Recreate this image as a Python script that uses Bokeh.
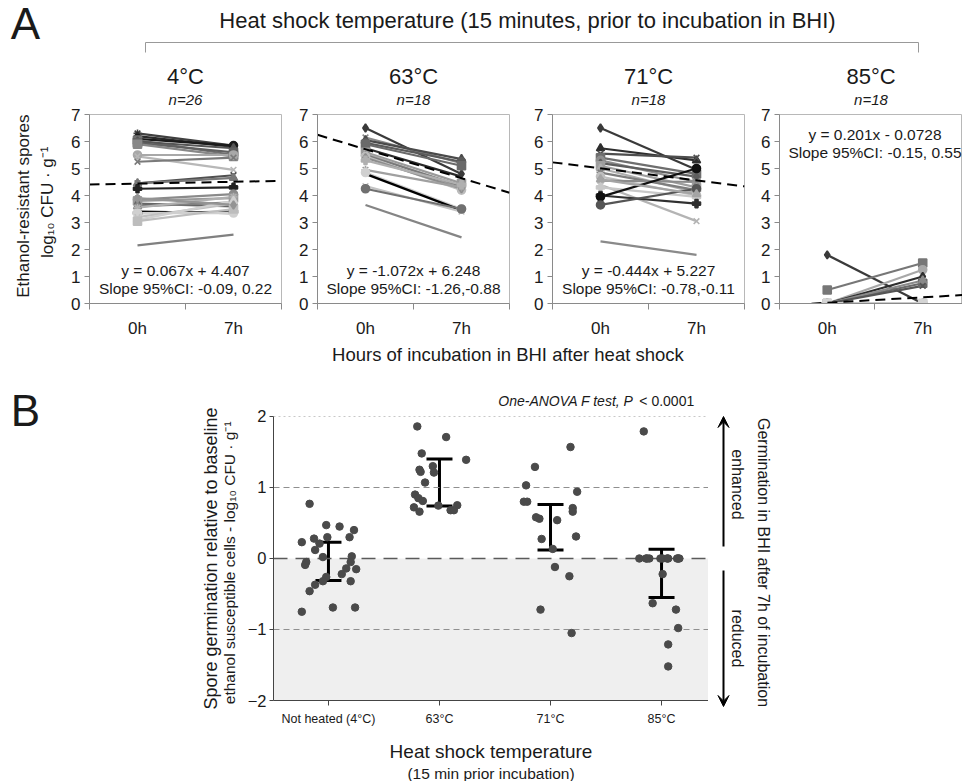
import math
from bokeh.plotting import figure
from bokeh.layouts import column, row
from bokeh.models import (Range1d, FixedTicker, Label, BoxAnnotation, Whisker, Title,
                          TeeHead, Arrow, VeeHead, ColumnDataSource)
from bokeh.embed import file_html
from bokeh.resources import INLINE
from bokeh.core.properties import value

FONT = "Liberation Sans"
TXT = "#1a1a1a"

# ---------------- Panel A data ----------------
main_title = "Heat shock temperature (15 minutes, prior to incubation in BHI)"
temps_A = ["4°C", "63°C", "71°C", "85°C"]
n_A = ["n=26", "n=18", "n=18", "n=18"]
hours = ["0h", "7h"]
yticks_A = [0, 1, 2, 3, 4, 5, 6, 7]
hours_title = "Hours of incubation in BHI after  heat shock"
ylab_A1 = "Ethanol-resistant spores"
ylab_A2 = "log₁₀ CFU · g⁻¹"

t4_0h = [6.3, 6.2, 6.1, 6.05, 6.0, 5.95, 5.9, 5.5, 5.45, 5.25, 4.45, 4.45, 4.25,
         3.85, 3.8, 3.7, 3.6, 3.55, 3.4, 3.35, 3.35, 3.2, 3.1, 3.05, 3.9, 2.15]
t4_7h = [5.85, 5.8, 5.85, 5.5, 5.75, 5.6, 5.45, 5.5, 4.95, 5.4, 4.75, 4.65, 4.3,
         4.05, 3.9, 3.6, 3.75, 3.95, 3.35, 3.4, 3.35, 3.7, 3.8, 3.5, 3.65, 2.55]
t63_0h = [6.5, 6.15, 6.05, 5.95, 5.9, 5.75, 5.6, 5.55, 5.5, 5.45, 5.4, 4.95, 4.85, 4.8, 4.35, 4.25, 5.3, 3.65]
t63_7h = [4.8, 5.2, 5.35, 5.25, 5.1, 4.7, 4.45, 4.3, 4.35, 4.2, 4.25, 4.3, 3.5, 3.45, 3.4, 3.5, 4.4, 2.45]
t71_0h = [6.5, 5.75, 5.55, 5.4, 5.3, 5.2, 5.1, 5.0, 4.85, 4.7, 4.55, 4.4, 4.3, 4.0, 3.95, 3.65, 4.6, 2.3]
t71_7h = [4.95, 5.3, 5.4, 4.8, 4.5, 4.7, 4.3, 4.1, 4.2, 4.0, 4.5, 3.05, 3.95, 3.7, 5.0, 4.25, 4.05, 1.8]
t85_0h = [1.8, 0.5, 0.0, 0.0, 0.0, 0.0, 0.0, 0.0, 0.0, 0.0, 0.0, 0.0, 0.0, 0.0, 0.0, 0.0, 0.0, 0.0]
t85_7h = [0.0, 1.5, 1.25, 1.0, 0.75, 0.85, 0.65, 0.0, 0.0, 0.0, 0.0, 0.0, 0.0, 0.0, 0.0, 0.0, 0.0, 0.0]

slope_A = [0.067, -1.072, -0.444, 0.201]
intercept_A = [4.407, 6.248, 5.227, -0.0728]
eq_A = ["y = 0.067x + 4.407", "y = -1.072x + 6.248", "y = -0.444x + 5.227", "y = 0.201x - 0.0728"]
ci_A = ["Slope 95%CI: -0.09, 0.22", "Slope 95%CI: -1.26,-0.88",
        "Slope 95%CI: -0.78,-0.11", "Slope 95%CI: -0.15, 0.55"]

# styles (grey shades and markers) per series
col4 = ["#404040", "#2a2a2a", "#1a1a1a", "#707070", "#555555", "#606060", "#888888", "#a8a8a8",
        "#b8b8b8", "#7a7a7a", "#505050", "#787878", "#222222", "#8a8a8a", "#9a9a9a", "#666666",
        "#808080", "#b0b0b0", "#000000", "#5c5c5c", "#d0d0d0", "#c0c0c0", "#cfcfcf", "#bdbdbd",
        "#949494", "#808080"]
mk4 = ["asterisk", "diamond", "circle", "square", "triangle", "square", "square", "circle",
       "x", "x", "x", "triangle", "plus", "circle", "square", "diamond", "triangle", "asterisk",
       None, "plus", "circle", "x", "triangle", "square", "diamond", None]
col63 = ["#3a3a3a", "#8a8a8a", "#4a4a4a", "#5a5a5a", "#6a6a6a", "#2a2a2a", "#9a9a9a", "#aaaaaa",
         "#7a7a7a", "#bcbcbc", "#8c8c8c", "#a0a0a0", "#d0d0d0", "#000000", "#c4c4c4", "#707070",
         "#b0b0b0", "#858585"]
mk63 = ["diamond", "x", "triangle", "circle", "square", None, "square", "triangle", "asterisk",
        "circle", "diamond", "asterisk", "circle", None, "x", "circle", "plus", None]
col71 = ["#3a3a3a", "#2e2e2e", "#4e4e4e", "#6e6e6e", "#8e8e8e", "#5e5e5e", "#9e9e9e", "#aeaeae",
         "#7e7e7e", "#bebebe", "#8a8a8a", "#b4b4b4", "#c8c8c8", "#303030", "#101010", "#555555",
         "#a4a4a4", "#8a8a8a"]
mk71 = ["diamond", "triangle", "x", "square", "circle", "diamond", "square", "triangle",
        "asterisk", "circle", "x", "x", "plus", "plus", "circle", "circle", "triangle", None]
col85 = ["#3a3a3a", "#777777", "#a8a8a8", "#2e2e2e", "#6a6a6a", "#8a8a8a", "#555555", "#000000",
         "#999999", "#aaaaaa", "#bbbbbb", "#909090", "#c0c0c0", "#b0b0b0", "#a0a0a0", "#c8c8c8",
         "#d0d0d0", "#d4d4d4"]
mk85 = ["diamond", "square", "circle", "diamond", "square", "triangle", "x", None,
        "circle", "triangle", "x", "diamond", "circle", "triangle", "x", "circle", "square", "square"]

# ---------------- Panel B data ----------------
cats_B = ["Not heated (4°C)", "63°C", "71°C", "85°C"]
yticks_B = [-2, -1, 0, 1, 2]
ref_dotted = [2]
ref_dashed = [1, -1]
ref_zero = [0]
nh_y = [0.77, 0.23, 0.28, 0.47, 0.45, 0.40, 0.30, 0.30, 0.12, 0.21, -0.05, -0.09, 0.02,
        0.03, -0.05, -0.14, -0.15, -0.22, -0.26, -0.32, -0.32, -0.37, -0.46, -0.75, -0.69, -0.69]
nh_dx = [-0.17, -0.24, -0.13, -0.02, 0.10, 0.23, -0.01, 0.19, -0.12, -0.08, -0.20, -0.21, -0.05,
         0.21, 0.20, 0.16, 0.25, 0.12, -0.02, -0.05, 0.20, -0.12, -0.17, -0.24, 0.04, 0.24]
h63_y = [1.86, 1.71, 1.48, 1.39, 1.30, 1.25, 1.22, 1.21, 1.07, 0.90, 0.85, 0.81, 0.72, 0.66,
         0.745, 0.75, 0.68, 0.68]
h63_dx = [-0.20, 0.06, -0.16, 0.24, -0.06, -0.18, -0.17, -0.05, -0.13, -0.22, -0.19, -0.15,
          -0.23, -0.18, -0.01, 0.16, 0.10, 0.13]
h71_y = [1.57, 1.29, 1.03, 0.94, 0.80, 0.80, 0.71, 0.66, 0.58, 0.56, 0.54, 0.275, 0.31, 0.135,
         -0.12, -0.25, -0.72, -1.05]
h71_dx = [0.18, -0.14, -0.22, 0.24, -0.24, -0.21, 0.20, 0.20, -0.13, -0.10, 0.06, -0.08, 0.23,
          0.02, 0.04, 0.17, -0.09, 0.19]
h85_y = [1.79, 0, 0, 0, 0, 0, 0, 0, 0, 0, 0, -0.22, -0.63, -0.72, -0.98, -1.21, -1.52, 0]
h85_dx = [-0.16, -0.20, -0.14, -0.11, -0.01, 0.01, 0.05, 0.06, 0.14, 0.16, -0.13, 0.01, -0.08,
          0.13, 0.15, 0.06, 0.06, 0.15]
err_hi = [0.23, 1.40, 0.76, 0.13]
err_lo = [-0.31, 0.74, 0.12, -0.55]
anova_a = "One-ANOVA F test,  P"
anova_b = "< 0.0001"
ylab_B1 = "Spore germination relative to baseline"
ylab_B2 = "ethanol susceptible cells  -  log₁₀ CFU · g⁻¹"
xlab_B1 = "Heat shock temperature"
xlab_B2 = "(15 min prior incubation)"
right_B = "Germination in BHI after 7h of incubation"
up_B = "enhanced"
down_B = "reduced"

# ---------------- layout constants (pixels) ----------------
W = 962
HDR_H = 60
PAN_H = 280
PAN_TOP = 54
PAN_BOT = 30
LAB_W = 60
STRIP_H = 28
B_Y0 = HDR_H + PAN_H + STRIP_H      # page y where the B row starts
B_H = 413
B_TOP = 22
B_BOT = 81
B_LEFT_W = 240
B_PLOT_L = 33
B_FRAME_W = 435
B_RIGHT_W = W - B_LEFT_W - B_PLOT_L - B_FRAME_W
panels_geom = [  # left border, frame width, right border, x end
    (29, 192, 13, 2.0),
    (23, 192, 19, 2.0),
    (24, 192, 14, 2.0),
    (20, 184, 0, 2.0 * 184 / 192),
]


def blank(width, height, xr, yr, top=0, bottom=0):
    f = figure(width=width, height=height, x_range=xr, y_range=yr, output_backend="svg",
               toolbar_location=None, x_axis_location=None, y_axis_location=None,
               min_border_left=0, min_border_right=0, min_border_top=top,
               min_border_bottom=bottom, outline_line_color=None, title=None)
    f.grid.visible = False
    return f


# ---------------- header ----------------
hdr = blank(W, HDR_H, Range1d(0, W), Range1d(HDR_H, 0))
hdr.text(x=[25], y=[23], text=["A"], text_font=value(FONT), text_font_size="44px",
         text_align="center", text_baseline="middle", text_color=TXT)
hdr.text(x=[527], y=[20], text=[main_title], text_font=value(FONT), text_font_size="22px",
         text_align="center", text_baseline="middle", text_color=TXT)
hdr.multi_line(xs=[[145, 145, 918, 918]], ys=[[52, 42, 42, 52]], line_color="#999999", line_width=1)


def make_panel(k, h0, h7, cols, marks, geom, text_top):
    left, fw, right, xend = geom
    p = figure(width=left + fw + right, height=PAN_H, x_range=Range1d(0, xend),
               y_range=Range1d(0, 7), output_backend="svg", toolbar_location=None, title=None,
               min_border_left=left, min_border_right=right, min_border_top=PAN_TOP,
               min_border_bottom=PAN_BOT)
    p.grid.visible = False
    p.outline_line_color = "#b8b8b8"
    p.add_layout(Title(text=n_A[k], align="center", text_font=FONT, text_font_size="15px",
                       text_font_style="italic", text_color=TXT, standoff=14), "above")
    p.add_layout(Title(text=temps_A[k], align="center", text_font=FONT, text_font_size="22px",
                       text_font_style="normal", text_color=TXT, standoff=-14), "above")
    ya = p.yaxis[0]
    ya.ticker = FixedTicker(ticks=yticks_A)
    ya.axis_line_color = "#8a8a8a"
    ya.major_tick_line_color = "#8a8a8a"
    ya.major_tick_out = 5
    ya.major_tick_in = 0
    ya.minor_tick_line_color = None
    ya.major_label_standoff = 4
    ya.major_label_text_font = FONT
    ya.major_label_text_font_size = "17px"
    ya.major_label_text_color = TXT
    xa = p.xaxis[0]
    xpos = [i + 0.5 for i in range(len(hours))]
    xa.ticker = FixedTicker(ticks=xpos, minor_ticks=list(range(len(hours) + 1)))
    xa.major_label_overrides = {xp: h for xp, h in zip(xpos, hours)}
    xa.axis_line_color = "#8a8a8a"
    xa.major_tick_out = 0
    xa.major_tick_in = 0
    xa.minor_tick_out = 6
    xa.minor_tick_in = 0
    xa.minor_tick_line_color = "#8a8a8a"
    xa.major_label_standoff = 9
    xa.major_label_text_font = FONT
    xa.major_label_text_font_size = "17px"
    xa.major_label_text_color = TXT

    n = len(h0)
    src = ColumnDataSource(dict(xs=[xpos] * n, ys=[[a, b] for a, b in zip(h0, h7)], c=cols))
    p.multi_line("xs", "ys", line_color="c", line_width=2.2, source=src)
    px, py, pc, pm = [], [], [], []
    for i in range(n):
        if marks[i] is None:
            continue
        for xx, yy in zip(xpos, (h0[i], h7[i])):
            px.append(xx); py.append(yy); pc.append(cols[i]); pm.append(marks[i])
    p.scatter(x="x", y="y", marker="m", fill_color="c", line_color="c", size=8, line_width=1.6,
              source=ColumnDataSource(dict(x=px, y=py, c=pc, m=pm)))
    tx = [0, len(hours)]
    ty = [intercept_A[k] + slope_A[k] * x for x in tx]
    p.line(tx, ty, line_color="black", line_width=2, line_dash="10 6")
    ty1, ty2 = (6.25, 5.6) if text_top else (1.24, 0.56)
    for txt, yy in ((eq_A[k], ty1), (ci_A[k], ty2)):
        p.add_layout(Label(x=1, y=yy, text=txt, text_align="center", text_baseline="middle",
                           text_font=FONT, text_font_size="15.5px", text_color=TXT))
    return p


# label column left of panel A (page pixel coordinates inside its frame)
frame_top_A = HDR_H + PAN_TOP
frame_bot_A = HDR_H + PAN_H - PAN_BOT
labA = blank(LAB_W, PAN_H, Range1d(0, LAB_W), Range1d(frame_bot_A, frame_top_A),
             top=PAN_TOP, bottom=PAN_BOT)
labA.text(x=[23, 47], y=[209, 205], text=[ylab_A1, ylab_A2], angle=math.pi / 2,
          text_font=value(FONT), text_font_size="17px", text_align="center",
          text_baseline="middle", text_color=TXT)

p1 = make_panel(0, t4_0h, t4_7h, col4, mk4, panels_geom[0], False)
p2 = make_panel(1, t63_0h, t63_7h, col63, mk63, panels_geom[1], False)
p3 = make_panel(2, t71_0h, t71_7h, col71, mk71, panels_geom[2], False)
p4 = make_panel(3, t85_0h, t85_7h, col85, mk85, panels_geom[3], True)

strip = blank(W, STRIP_H, Range1d(0, W), Range1d(STRIP_H, 0))
strip.text(x=[510], y=[14], text=[hours_title], text_font=value(FONT), text_font_size="18.5px",
           text_align="center", text_baseline="middle", text_color=TXT)

# ---------------- Panel B ----------------
XMIN_B, XMAX_B = -0.495, 3.423
pb = figure(width=B_PLOT_L + B_FRAME_W, height=B_H, x_range=Range1d(XMIN_B, XMAX_B),
            y_range=Range1d(-2, 2.366), output_backend="svg", toolbar_location=None, title=None,
            min_border_left=B_PLOT_L, min_border_right=0, min_border_top=B_TOP,
            min_border_bottom=B_BOT)
pb.grid.visible = False
pb.outline_line_color = None
pb.add_layout(BoxAnnotation(top=0, bottom=-2, fill_color="#efefef", fill_alpha=1,
                            line_color=None, level="underlay"))
pb.segment(x0=[XMIN_B] * len(ref_dotted), x1=[XMAX_B] * len(ref_dotted), y0=ref_dotted,
           y1=ref_dotted, line_color="#c8c8c8", line_width=1, line_dash="2 3")
pb.segment(x0=[XMIN_B] * len(ref_dashed), x1=[XMAX_B] * len(ref_dashed), y0=ref_dashed,
           y1=ref_dashed, line_color="#8f8f8f", line_width=1.2, line_dash="6 4")
pb.segment(x0=[XMIN_B] * len(ref_zero), x1=[XMAX_B] * len(ref_zero), y0=ref_zero,
           y1=ref_zero, line_color="#5a5a5a", line_width=1.5, line_dash="14 8")

yb = pb.yaxis[0]
yb.ticker = FixedTicker(ticks=yticks_B)
yb.bounds = (min(yticks_B), max(yticks_B))
yb.axis_line_color = "#444444"
yb.major_tick_line_color = "#444444"
yb.major_tick_out = 4
yb.major_tick_in = 0
yb.major_label_standoff = 3
yb.major_label_text_font = FONT
yb.major_label_text_font_size = "16.5px"
yb.major_label_text_color = TXT

xb = pb.xaxis[0]
xb.ticker = FixedTicker(ticks=list(range(len(cats_B))))
xb.major_label_overrides = {i: c for i, c in enumerate(cats_B)}
xb.axis_line_color = "#444444"
xb.major_tick_line_color = "#444444"
xb.major_tick_out = 5
xb.major_tick_in = 0
xb.major_label_standoff = 6
xb.major_label_text_font = FONT
xb.major_label_text_font_size = "12.5px"
xb.major_label_text_color = TXT
xb.axis_label = xlab_B1
xb.axis_label_text_font = FONT
xb.axis_label_text_font_size = "19px"
xb.axis_label_text_font_style = "normal"
xb.axis_label_text_color = TXT
xb.axis_label_standoff = 12
pb.add_layout(Title(text=xlab_B2, align="center", standoff=-4, text_font=FONT,
                    text_font_size="15.5px", text_font_style="normal", text_color=TXT), "below")

groups = [(nh_y, nh_dx), (h63_y, h63_dx), (h71_y, h71_dx), (h85_y, h85_dx)]
dx_all, dy_all = [], []
for gi, (ys, dxs) in enumerate(groups):
    for yy, dd in zip(ys, dxs):
        dx_all.append(gi + dd)
        dy_all.append(yy)
pb.scatter(dx_all, dy_all, size=7.5, fill_color="#4a4a4a", line_color="#4a4a4a")

wsrc = ColumnDataSource(dict(base=list(range(len(cats_B))), upper=err_hi, lower=err_lo))
pb.add_layout(Whisker(base="base", upper="upper", lower="lower", source=wsrc,
                      line_color="black", line_width=3,
                      upper_head=TeeHead(size=26, line_width=3, line_color="black"),
                      lower_head=TeeHead(size=26, line_width=3, line_color="black")))

pb.add_layout(Label(x=2.784, y=2.225, text=anova_a, text_align="right", text_baseline="middle",
                    text_font=FONT, text_font_style="italic", text_font_size="14px",
                    text_color=TXT))
pb.add_layout(Label(x=2.80, y=2.225, text=anova_b, text_align="left", text_baseline="middle",
                    text_font=FONT, text_font_size="14px", text_color=TXT))

# left column of panel B: "B" tag and the two-line y-axis title (page pixel coordinates)
labB = blank(B_LEFT_W, B_H, Range1d(0, B_LEFT_W), Range1d(B_Y0 + B_H, B_Y0))
labB.text(x=[25], y=[410], text=["B"], text_font=value(FONT), text_font_size="44px",
          text_align="center", text_baseline="middle", text_color=TXT)
labB.text(x=[210], y=[558], text=[ylab_B1], angle=math.pi / 2, text_font=value(FONT),
          text_font_size="18px", text_align="center", text_baseline="middle", text_color=TXT)
labB.text(x=[229], y=[558], text=[ylab_B2], angle=math.pi / 2, text_font=value(FONT),
          text_font_size="15.5px", text_align="center", text_baseline="middle", text_color=TXT)

# right column of panel B: arrows and rotated texts (page pixel coordinates)
RX0 = B_LEFT_W + B_PLOT_L + B_FRAME_W
rfig = blank(B_RIGHT_W, B_H, Range1d(RX0, W), Range1d(B_Y0 + B_H, B_Y0))
rfig.add_layout(Arrow(x_start=723, y_start=546, x_end=723, y_end=416, line_width=2,
                      line_color="black",
                      end=VeeHead(size=11, fill_color="black", line_color="black")))
rfig.add_layout(Arrow(x_start=723, y_start=570, x_end=723, y_end=706, line_width=2,
                      line_color="black",
                      end=VeeHead(size=11, fill_color="black", line_color="black")))
rfig.text(x=[737, 737, 763], y=[484, 638, 562], text=[up_B, down_B, right_B],
          angle=-math.pi / 2, text_font=value(FONT), text_font_size="16px",
          text_align="center", text_baseline="middle", text_color=TXT)

page = column(row(hdr), row(labA, p1, p2, p3, p4), row(strip),
              row(column(labB), pb, column(rfig)))
open("out.html", "w").write(file_html(page, INLINE))
